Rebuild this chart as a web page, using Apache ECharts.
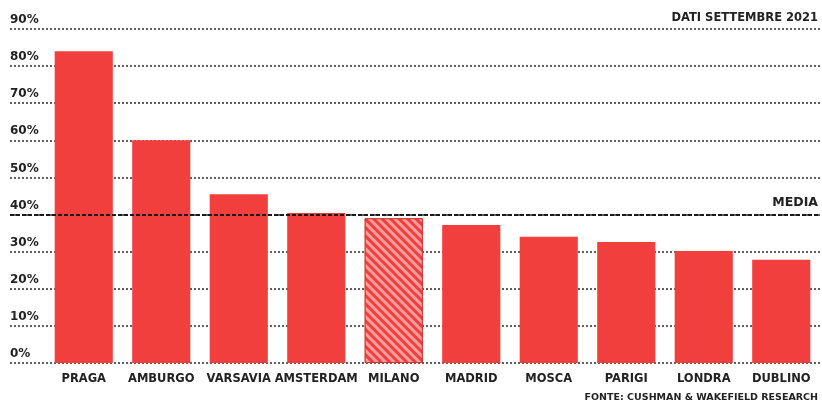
<!DOCTYPE html>
<html>
<head>
<meta charset="utf-8">
<script src="https://cdn.jsdelivr.net/npm/echarts@6/dist/echarts.min.js"></script>
<style>
  html, body { margin: 0; padding: 0; background: #fff; }
  #chart { width: 822px; height: 405px; }
</style>
</head>
<body>
<div id="chart"></div>
<script>
// Città e quota percentuale (dati settembre 2021)
const cities = ['PRAGA', 'AMBURGO', 'VARSAVIA', 'AMSTERDAM', 'MILANO', 'MADRID', 'MOSCA', 'PARIGI', 'LONDRA', 'DUBLINO'];
const values = [84, 60, 45.5, 40.4, 39, 37.2, 34, 32.6, 30.2, 27.8];
const highlighted = 'MILANO';
const mediaValue = 40;
const yTicks = [0, 10, 20, 30, 40, 50, 60, 70, 80, 90];

const RED = '#f03f3d';
const INK = '#222222';
const FONT = 'DejaVu Sans';

const chart = echarts.init(document.getElementById('chart'), null, { renderer: 'canvas' });

const barData = values.map((v, i) => {
  if (cities[i] !== highlighted) return v;
  return {
    value: v,
    itemStyle: {
      color: RED,
      borderColor: '#d83434',
      borderWidth: 1,
      decal: {
        symbol: 'rect',
        symbolSize: 1,
        color: 'rgba(255,255,255,0.5)',
        dashArrayX: [1, 0],
        dashArrayY: [2.5, 2.5],
        rotation: Math.PI / 4
      }
    }
  };
});

const gridTop = 29, gridBottom = 42;

chart.setOption({
  animation: false,
  backgroundColor: '#fff',
  title: [
    {
      text: 'DATI SETTEMBRE 2021',
      right: 4, top: 12, padding: 0,
      textStyle: { fontFamily: FONT, fontSize: 11.5, fontWeight: 'bold', color: INK }
    },
    {
      text: 'FONTE: CUSHMAN & WAKEFIELD RESEARCH',
      right: 4, top: 393, padding: 0,
      textStyle: { fontFamily: FONT, fontSize: 9.5, fontWeight: 'bold', color: INK }
    }
  ],
  grid: [
    // full-width grid carrying the dotted gridlines and percentage labels
    { left: 10, right: 2, top: gridTop, bottom: gridBottom },
    // bar grid
    { left: 45, right: 2, top: gridTop, bottom: gridBottom }
  ],
  xAxis: [
    { gridIndex: 0, type: 'value', min: 0, max: 1, show: false },
    {
      gridIndex: 1, type: 'category', data: cities,
      axisLine: { show: false }, axisTick: { show: false },
      axisLabel: {
        margin: 10, interval: 0,
        fontFamily: FONT, fontSize: 11.5, fontWeight: 'bold', color: INK
      }
    }
  ],
  yAxis: [
    {
      gridIndex: 0, type: 'value', min: 0, max: 90, interval: 10,
      axisLine: { show: false }, axisTick: { show: false },
      splitLine: { show: true, lineStyle: { color: '#3a3a3a', width: 1.6, type: [2, 2] } },
      axisLabel: {
        inside: true, margin: 0, align: 'left', verticalAlign: 'bottom',
        padding: [0, 0, 3, 0],
        fontFamily: FONT, fontSize: 12, fontWeight: 'bold', color: INK,
        formatter: v => yTicks.includes(v) ? v + '%' : ''
      }
    },
    { gridIndex: 1, type: 'value', min: 0, max: 90, interval: 10, show: false, splitLine: { show: false } }
  ],
  series: [
    {
      type: 'line', xAxisIndex: 0, yAxisIndex: 0, data: [], z: 1,
      silent: true,
      markLine: {
        symbol: 'none', silent: true,
        lineStyle: { color: '#1a1a1a', width: 2.2, type: [4, 2] },
        label: {
          show: true, position: 'insideEndTop', distance: [2, 5],
          formatter: 'MEDIA',
          fontFamily: FONT, fontSize: 12.5, fontWeight: 'bold', color: INK
        },
        data: [{ yAxis: mediaValue }]
      }
    },
    {
      type: 'bar', xAxisIndex: 1, yAxisIndex: 1, data: barData, z: 2,
      barCategoryGap: '25%',
      itemStyle: { color: RED }
    }
  ]
});
</script>
</body>
</html>
